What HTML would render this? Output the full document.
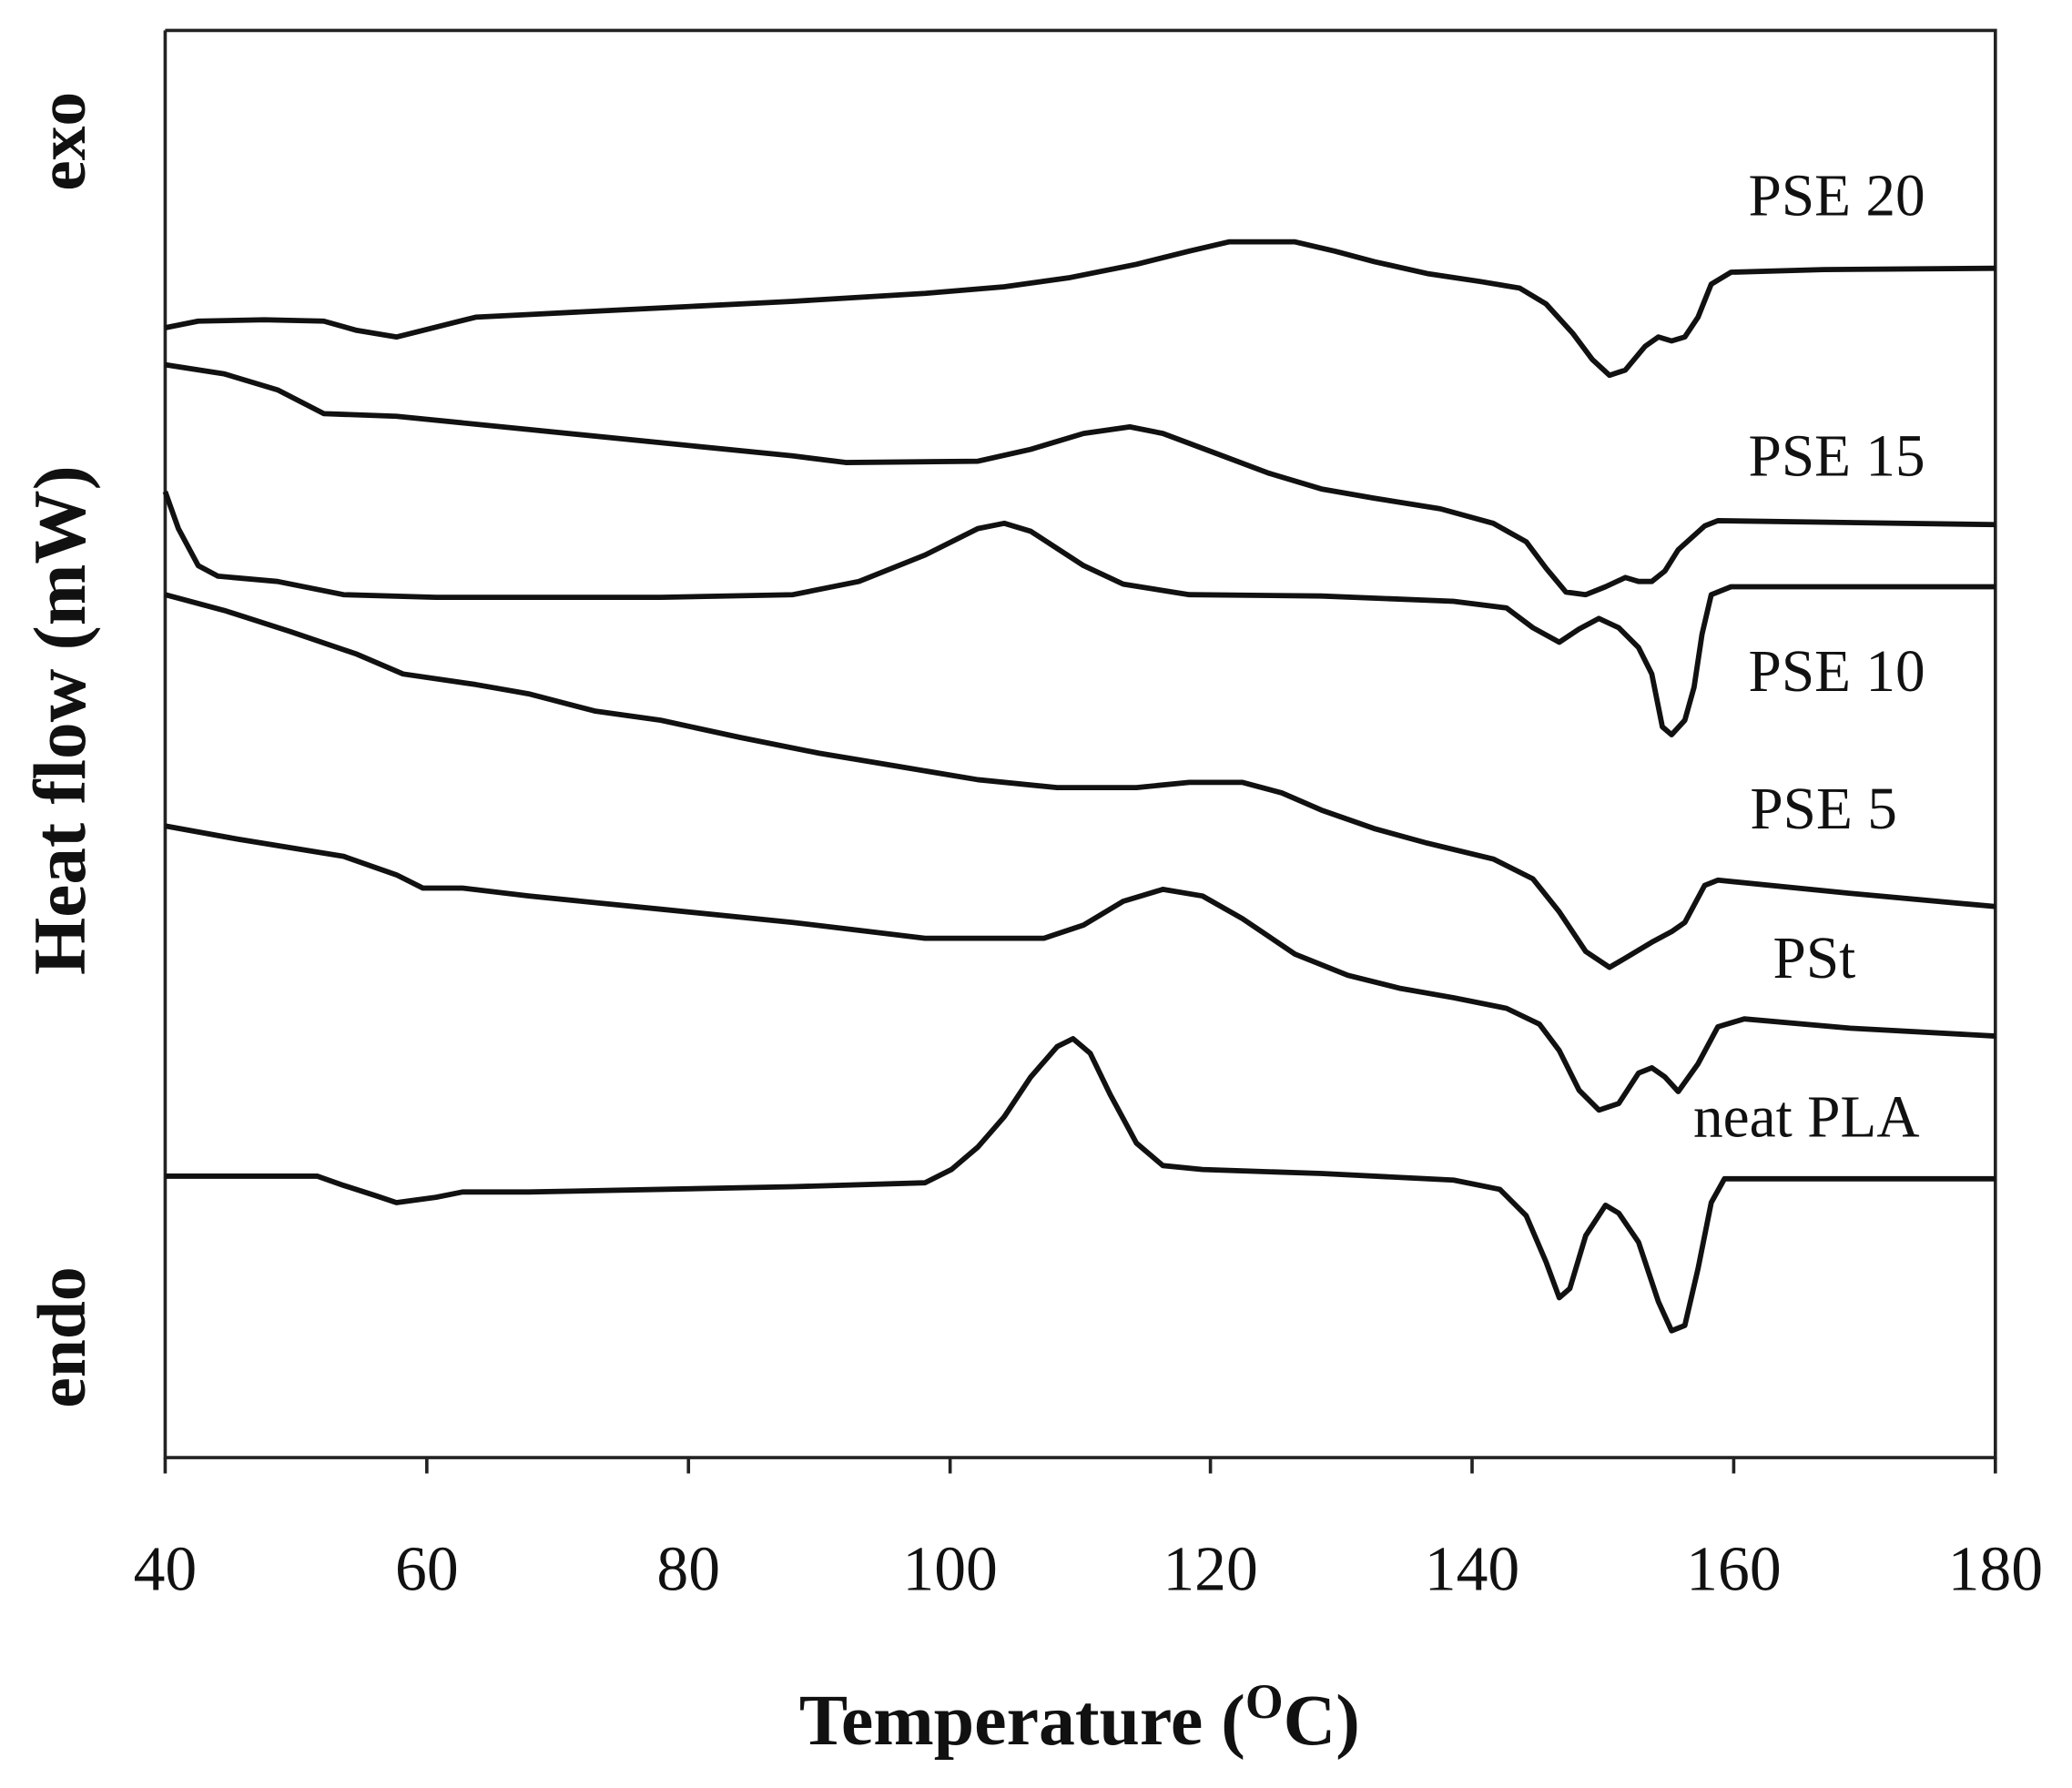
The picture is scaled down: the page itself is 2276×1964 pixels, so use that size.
<!DOCTYPE html>
<html><head><style>html,body{margin:0;padding:0;background:#fff}svg{display:block}</style></head>
<body>
<svg width="2276" height="1964" viewBox="0 0 1568 1353" xmlns="http://www.w3.org/2000/svg" preserveAspectRatio="none">
<rect width="1568" height="1353" fill="#fff"/>
<g fill="none" stroke="#222" stroke-width="2.5">
<polyline points="125,23 1510,23 1510,1103 125,1103 125,23"/>
<path d="M125,1103v12M323,1103v12M521,1103v12M719,1103v12M916,1103v12M1114,1103v12M1312,1103v12M1510,1103v12"/>
</g>
<g fill="none" stroke="#111" stroke-width="4" stroke-linejoin="round">
<polyline points="125,248 150,243 200,242 245,243 270,250 300,255 320,250 360,240 400,238 500,233 600,228 700,222 760,217 810,210 860,200 900,190 930,183 980,183 1010,190 1040,198 1080,207 1120,213 1150,218 1170,230 1190,252 1205,272 1218,284 1230,280 1245,262 1255,255 1265,258 1275,255 1285,240 1295,215 1310,206 1380,204 1510,203"/>
<polyline points="125,276 170,283 210,295 245,313 300,315 400,325 500,335 600,345 640,350 740,349 780,340 820,328 855,323 880,328 920,343 960,358 1000,370 1040,377 1090,385 1130,396 1155,410 1170,430 1185,448 1200,450 1215,444 1230,437 1240,440 1250,440 1260,432 1270,416 1290,398 1300,394 1510,397"/>
<polyline points="125,372 135,400 150,428 165,436 210,440 260,450 330,452 400,452 500,452 600,450 650,440 700,420 740,400 760,396 780,402 800,415 820,428 850,442 900,450 1000,451 1100,455 1140,460 1160,475 1180,486 1195,476 1210,468 1225,475 1240,490 1250,510 1258,550 1265,556 1275,545 1282,520 1288,480 1295,450 1310,444 1510,444"/>
<polyline points="125,450 170,462 220,478 270,495 305,510 360,518 400,525 450,538 500,545 560,558 620,570 680,580 740,590 800,596 860,596 900,592 940,592 970,600 1000,613 1040,627 1080,638 1130,650 1160,665 1180,690 1200,720 1218,732 1230,725 1250,713 1265,705 1275,698 1290,670 1300,666 1400,676 1510,686"/>
<polyline points="125,625 180,635 260,648 300,662 320,672 350,672 400,678 500,688 600,698 700,710 790,710 820,700 850,682 880,673 910,678 940,695 980,722 1020,738 1060,748 1100,755 1140,763 1165,775 1180,795 1195,825 1210,840 1225,835 1240,812 1250,808 1260,815 1270,826 1285,805 1300,777 1320,771 1400,778 1510,784"/>
<polyline points="125,890 240,890 260,897 285,905 300,910 330,906 350,902 400,902 500,900 600,898 700,895 720,885 740,868 760,845 780,815 800,792 812,786 825,797 840,828 860,865 880,882 910,885 1000,888 1100,893 1135,900 1155,920 1170,955 1180,982 1188,975 1200,935 1215,912 1225,918 1240,940 1255,985 1265,1007 1275,1003 1285,960 1295,910 1305,892 1510,892"/>
</g>
<g font-family="Liberation Serif, serif" font-size="45" fill="#111">
<text x="1390" y="163" text-anchor="middle">PSE 20</text>
<text x="1390" y="360" text-anchor="middle">PSE 15</text>
<text x="1390" y="523" text-anchor="middle">PSE 10</text>
<text x="1380" y="627" text-anchor="middle">PSE 5</text>
<text x="1373" y="740" text-anchor="middle">PSt</text>
<text x="1367" y="860" text-anchor="middle">neat PLA</text>
</g>
<g font-family="Liberation Serif, serif" font-size="48" fill="#111" text-anchor="middle">
<text x="125" y="1203">40</text><text x="323" y="1203">60</text><text x="521" y="1203">80</text>
<text x="719" y="1203">100</text><text x="916" y="1203">120</text><text x="1114" y="1203">140</text>
<text x="1312" y="1203">160</text><text x="1510" y="1203">180</text>
</g>
<text x="817" y="1320" font-family="Liberation Serif, serif" font-weight="bold" font-size="55" text-anchor="middle" fill="#111">Temperature (<tspan font-size="37" dy="-20">O</tspan><tspan dy="20">C)</tspan></text>
<g font-family="Liberation Serif, serif" font-weight="bold" font-size="56" fill="#111" text-anchor="middle">
<text transform="translate(64,545) rotate(-90)">Heat flow (mW)</text>
<text transform="translate(64,107) rotate(-90)" font-size="52">exo</text>
<text transform="translate(64,1012) rotate(-90)" font-size="52">endo</text>
</g>
</svg>
</body></html>
